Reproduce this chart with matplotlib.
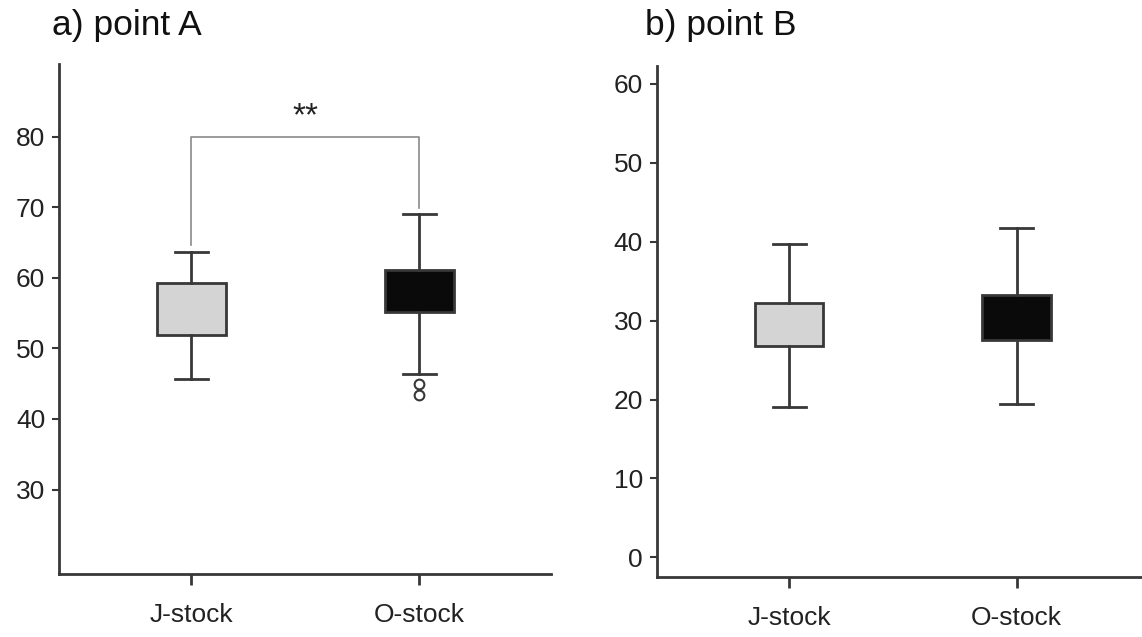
import matplotlib
matplotlib.use("Agg")
import matplotlib.pyplot as plt

plt.rcParams['font.family'] = ['Liberation Sans', 'DejaVu Sans']

categories = ["J-stock", "O-stock"]

# point A
a_whislo = [45.7, 46.4]
a_q1 = [51.9, 55.1]
a_q3 = [59.3, 61.1]
a_whishi = [63.7, 69.0]
a_fliers = [[], [45.0, 43.4]]
a_ticks = [30, 40, 50, 60, 70, 80]

# point B
b_whislo = [19.0, 19.4]
b_q1 = [26.8, 27.6]
b_q3 = [32.2, 33.3]
b_whishi = [39.7, 41.7]
b_fliers = [[], []]
b_ticks = [0, 10, 20, 30, 40, 50, 60]

box_colors = ["#d4d4d4", "#0a0a0a"]
titles = ["a) point A", "b) point B"]
sig_label = "**"

fig = plt.figure(figsize=(11.42, 6.37), dpi=100)
axA = fig.add_axes([0.0517, 0.0994, 0.4305, 0.8001])
axB = fig.add_axes([0.5753, 0.0947, 0.4238, 0.8017])

line_col = "#383838"


def draw(ax, whislo, q1, q3, whishi, fliers, ticks, ylim, xlim):
    stats = []
    for i in range(len(categories)):
        stats.append(dict(whislo=whislo[i], q1=q1[i], med=q1[i], q3=q3[i],
                          whishi=whishi[i], fliers=fliers[i], label=categories[i]))
    bp = ax.bxp(stats, positions=[1, 2], widths=0.30, patch_artist=True,
                showfliers=True,
                boxprops=dict(edgecolor=line_col, linewidth=2.0),
                whiskerprops=dict(color=line_col, linewidth=2.0),
                capprops=dict(color=line_col, linewidth=2.0),
                medianprops=dict(visible=False),
                flierprops=dict(marker='o', markerfacecolor='white',
                                markeredgecolor=line_col, markersize=7,
                                markeredgewidth=1.5))
    for patch, c in zip(bp['boxes'], box_colors):
        patch.set_facecolor(c)
    for cap in bp['caps']:
        xd = cap.get_xdata()
        mid = (xd[0] + xd[1]) / 2
        cap.set_xdata([mid - 0.072, mid + 0.072])
    ax.set_xlim(*xlim)
    ax.set_ylim(*ylim)
    ax.set_yticks(ticks)
    ax.set_xticks([1, 2])
    ax.set_xticklabels(categories)
    for s in ['top', 'right']:
        ax.spines[s].set_visible(False)
    for s in ['left', 'bottom']:
        ax.spines[s].set_color(line_col)
        ax.spines[s].set_linewidth(2.0)
    ax.tick_params(axis='y', length=5, width=1.5, color=line_col,
                   labelsize=19, labelcolor='#222222', pad=5)
    ax.tick_params(axis='x', length=8, width=2, color=line_col,
                   labelsize=19, labelcolor='#222222', pad=13)


draw(axA, a_whislo, a_q1, a_q3, a_whishi, a_fliers, a_ticks,
     (18.07, 90.3), (0.42, 2.575))
draw(axB, b_whislo, b_q1, b_q3, b_whishi, b_fliers, b_ticks,
     (-2.46, 62.28), (0.419, 2.547))

# significance bracket on panel A
axA.plot([1, 1, 2, 2], [64.7, 80, 80, 69.9], color="#8a8a8a", linewidth=1.2)
axA.text(1.5, 80.6, sig_label, ha='center', va='bottom', fontsize=24,
         color='#222222')

fig.text(51.7 / 1142, 1 - 35 / 637, titles[0], fontsize=25.5, ha='left',
         va='baseline', color='#111111')
fig.text(645 / 1142, 1 - 35 / 637, titles[1], fontsize=25.5, ha='left',
         va='baseline', color='#111111')

fig.savefig("out.png", dpi=100, facecolor='white')
